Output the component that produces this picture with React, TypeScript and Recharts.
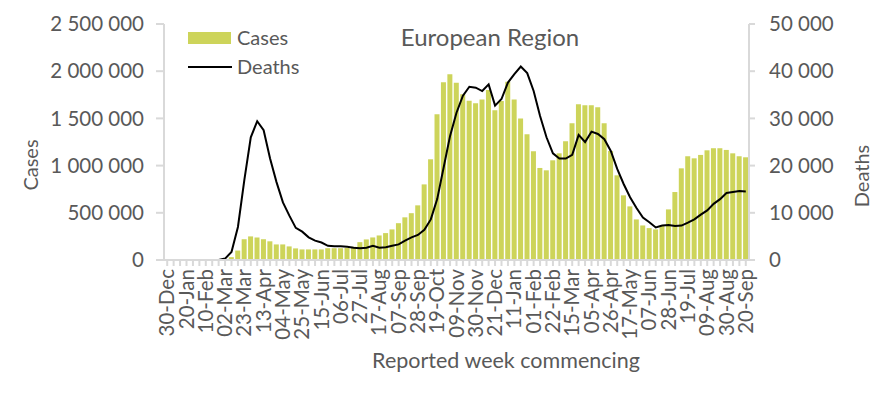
import React from 'react'
import {
  Bar,
  ComposedChart,
  Line,
  XAxis,
  YAxis,
} from 'recharts'

const weeks = [
  '30-Dec', '06-Jan', '13-Jan', '20-Jan', '27-Jan', '03-Feb', '10-Feb', '17-Feb', '24-Feb', '02-Mar',
  '09-Mar', '16-Mar', '23-Mar', '30-Mar', '06-Apr', '13-Apr', '20-Apr', '27-Apr', '04-May', '11-May',
  '18-May', '25-May', '01-Jun', '08-Jun', '15-Jun', '22-Jun', '29-Jun', '06-Jul', '13-Jul', '20-Jul',
  '27-Jul', '03-Aug', '10-Aug', '17-Aug', '24-Aug', '31-Aug', '07-Sep', '14-Sep', '21-Sep', '28-Sep',
  '05-Oct', '12-Oct', '19-Oct', '26-Oct', '02-Nov', '09-Nov', '16-Nov', '23-Nov', '30-Nov', '07-Dec',
  '14-Dec', '21-Dec', '28-Dec', '04-Jan ', '11-Jan', '18-Jan', '25-Jan', '01-Feb', '08-Feb ', '15-Feb',
  '22-Feb', '01-Mar', '08-Mar ', '15-Mar', '22-Mar', '29-Mar', '05-Apr', '12-Apr', '19-Apr', '26-Apr',
  '03-May', '10-May', '17-May', '24-May', '31-May', '07-Jun', '14-Jun', '21-Jun', '28-Jun', '05-Jul',
  '12-Jul', '19-Jul', '26-Jul', '02-Aug', '09-Aug', '16-Aug', '23-Aug', '30-Aug', '06-Sep', '13-Sep',
  '20-Sep',
]

const cases = [
  0, 0, 0, 0, 0, 0, 0, 0, 0, 5000,
  30000, 100000, 220000, 250000, 238000, 220000, 198000, 165000, 165000, 144000,
  123000, 112000, 112000, 112000, 112000, 125000, 125000, 125000, 128000, 140000,
  189000, 218000, 239000, 260000, 285000, 324000, 390000, 452000, 496000, 579000,
  801000, 1067000, 1545000, 1884000, 1969000, 1877000, 1757000, 1686000, 1661000, 1700000,
  1800000, 1587000, 1683000, 1888000, 1700000, 1499000, 1332000, 1152000, 975000, 950000,
  1056000, 1130000, 1258000, 1449000, 1651000, 1640000, 1640000, 1619000, 1449000, 1155000,
  897000, 685000, 568000, 430000, 366000, 338000, 324000, 366000, 536000, 720000,
  971000, 1099000, 1077000, 1113000, 1162000, 1184000, 1184000, 1166000, 1130000, 1099000,
  1088000,
]

const deaths = [
  0, 0, 0, 0, 0, 0, 0, 0, 0, 300,
  1700, 7000, 17000, 26000, 29400, 27500, 21500, 16500, 12200, 9400,
  6800, 6000, 4800, 4100, 3700, 3000, 2900, 2900, 2800, 2600,
  2500, 2600, 3000, 2600, 2700, 3000, 3300, 4100, 4800, 5300,
  6400, 8600, 12900, 19600, 26300, 31200, 34800, 36700, 36500, 35800,
  37200, 32700, 34100, 37600, 39400, 41000, 39600, 35800, 30500, 26000,
  22600, 21500, 21500, 22300, 26500, 25000, 27200, 26700, 25600, 23100,
  19300, 16100, 13300, 11000, 9000, 8000, 6900, 7300, 7400, 7200,
  7300, 7900, 8600, 9600, 10500, 11900, 12900, 14200, 14400, 14600,
  14500,
]

const casesTicks = [0, 500000, 1000000, 1500000, 2000000, 2500000]
const deathsTicks = [0, 10000, 20000, 30000, 40000, 50000]

const data = weeks.map((week, i) => ({ week, cases: cases[i], deaths: deaths[i] }))

const FONT = 'Lato, "Open Sans", sans-serif'
const TEXT = '#595959'
const AXIS = '#d9d9d9'
const BAR = '#cdd45a'

const fmt = (v: number) => String(v).replace(/\B(?=(\d{3})+(?!\d))/g, ' ')

const DateTick = (props: any) => {
  const { x, y, payload } = props
  const idx = weeks.indexOf(payload.value)
  if (idx % 3 !== 0) return null
  const tx = x + 7
  const ty = y + 1
  return (
    <text
      x={tx}
      y={ty}
      transform={`rotate(-90, ${tx}, ${ty})`}
      textAnchor='end'
      fill={TEXT}
      fontSize={20.5}
      fontFamily={FONT}
    >
      {payload.value.trim()}
    </text>
  )
}

const App = (): JSX.Element => {
  return (
    <div style={{ position: 'absolute', left: 0, top: 0, width: 885, height: 393 }}>
      <ComposedChart
        width={885}
        height={393}
        data={data}
        margin={{ top: 24, right: 0, bottom: 0, left: 0 }}
        barCategoryGap='8%'
      >
        <XAxis
          dataKey='week'
          interval={0}
          height={133}
          tick={<DateTick />}
          tickSize={6}
          stroke={AXIS}
          axisLine={{ stroke: AXIS, strokeWidth: 2 }}
          tickLine={{ stroke: AXIS, strokeWidth: 2 }}
        />
        <YAxis
          yAxisId='left'
          width={164}
          domain={[0, 2500000]}
          ticks={casesTicks}
          tickFormatter={fmt}
          tickSize={8}
          tickMargin={12}
          axisLine={{ stroke: AXIS, strokeWidth: 2 }}
          tickLine={{ stroke: AXIS, strokeWidth: 2 }}
          tick={{ fill: TEXT, fontSize: 20.5, fontFamily: FONT }}
        />
        <YAxis
          yAxisId='right'
          orientation='right'
          width={136}
          domain={[0, 50000]}
          ticks={deathsTicks}
          tickFormatter={fmt}
          tickSize={6}
          tickMargin={14}
          axisLine={{ stroke: AXIS, strokeWidth: 2 }}
          tickLine={{ stroke: AXIS, strokeWidth: 2 }}
          tick={{ fill: TEXT, fontSize: 20.5, fontFamily: FONT }}
        />
        <Bar yAxisId='left' dataKey='cases' fill={BAR} isAnimationActive={false} />
        <Line
          yAxisId='right'
          dataKey='deaths'
          stroke='#000'
          strokeWidth={2}
          dot={false}
          type='linear'
          isAnimationActive={false}
        />
      </ComposedChart>
      <svg
        width={885}
        height={393}
        style={{ position: 'absolute', left: 0, top: 0, pointerEvents: 'none' }}
        fontFamily={FONT}
        fill={TEXT}
      >
        {/* legend */}
        <rect x={188} y={32} width={43} height={12} fill={BAR} />
        <text x={237} y={45} fontSize={20}>Cases</text>
        <line x1={188} x2={232} y1={67} y2={67} stroke='#000' strokeWidth={2} />
        <text x={237} y={74} fontSize={20}>Deaths</text>

        <text x={490} y={46} textAnchor='middle' fontSize={24}>European Region</text>
        <text x={38} y={165} textAnchor='middle' fontSize={20} transform='rotate(-90, 38, 165)'>Cases</text>
        <text x={869} y={176} textAnchor='middle' fontSize={20} transform='rotate(-90, 869, 176)'>Deaths</text>
        <text x={506} y={368} textAnchor='middle' fontSize={21.5}>Reported week commencing</text>
      </svg>
    </div>
  )
}

export default App
